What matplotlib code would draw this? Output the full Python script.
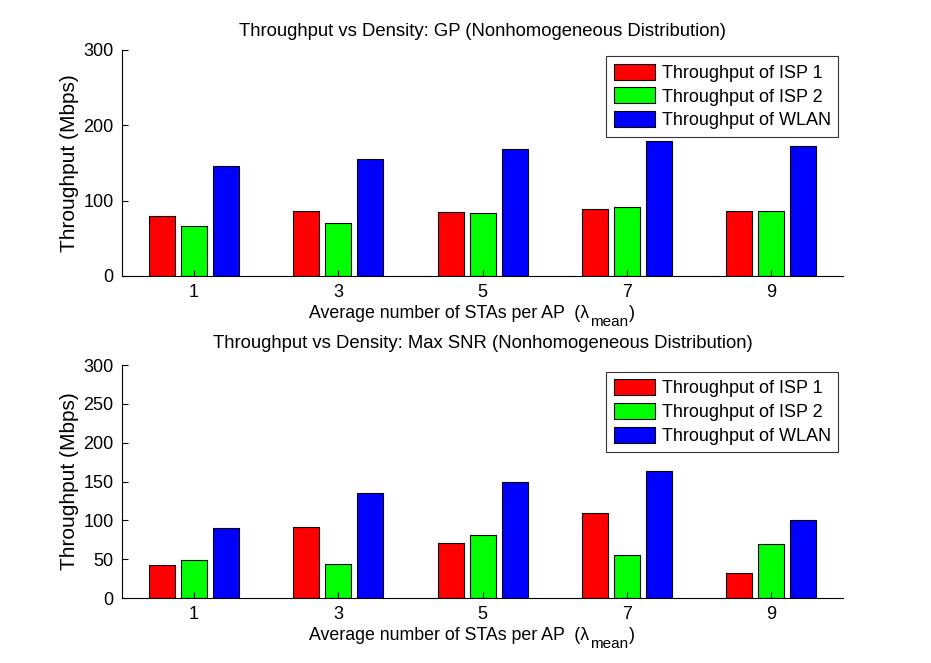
import numpy as np
import matplotlib
matplotlib.use('Agg')
import matplotlib.pyplot as plt

plt.rcParams['font.family'] = ['Liberation Sans', 'DejaVu Sans']

# data
density = [1, 3, 5, 7, 9]
series = ['Throughput of ISP 1', 'Throughput of ISP 2', 'Throughput of WLAN']
colors = ['#ff0000', '#00ff00', '#0000ff']
gp_isp1 = [79.5, 86, 85, 89, 86]
gp_isp2 = [66, 70, 83.5, 91.5, 86]
gp_wlan = [145.5, 155.5, 168.5, 179, 172]
snr_isp1 = [42, 91, 70.5, 109, 32]
snr_isp2 = [49, 43.5, 81, 55, 69]
snr_wlan = [90, 135, 150, 163, 100]

titles = ['Throughput vs Density: GP (Nonhomogeneous Distribution)',
          'Throughput vs Density: Max SNR (Nonhomogeneous Distribution)']


def xLabel(ax):
    """ xlabel with a MATLAB sized subscript, built from three pieces """
    t1 = ax.annotate('Average number of STAs per AP  (\u03bb', xy=(0.259, 0),
                     xycoords='axes fraction', xytext=(0, -30),
                     textcoords='offset points', fontsize=12.8,
                     ha='left', va='baseline')
    t2 = ax.annotate('mean', xy=(1, 0), xycoords=t1, xytext=(1, -5.5),
                     textcoords='offset points', fontsize=11,
                     ha='left', va='bottom')
    ax.annotate(')', xy=(1, 0), xycoords=(t2, t1), xytext=(0.5, 0),
                textcoords='offset points', fontsize=12.8,
                ha='left', va='bottom')


def groupBar(ax, data, yticks, title, tpad):
    """ MATLAB style grouped bar chart """
    x = np.array(density, dtype=float)
    offsets = [-0.444, 0, 0.444]
    for k, vals in enumerate(data):
        ax.bar(x + offsets[k], vals, width=0.36, color=colors[k],
               edgecolor='black', linewidth=0.8, label=series[k])
    ax.set_xlim(0, 10)
    ax.set_ylim(0, 300)
    ax.set_xticks(density)
    ax.set_yticks(yticks)
    ax.tick_params(direction='in', length=4, labelsize=13, width=0.8, pad=6)
    for s in ['top', 'right']:
        ax.spines[s].set_visible(False)
    ax.set_title(title, fontsize=13.3, pad=tpad)
    xLabel(ax)
    ax.set_ylabel('Throughput (Mbps)', fontsize=15, labelpad=3)
    leg = ax.legend(loc='upper right', fontsize=13, frameon=True, fancybox=False,
                    edgecolor='black', handlelength=2.3, handleheight=1.0,
                    handletextpad=0.35, borderpad=0.42, labelspacing=0.3,
                    borderaxespad=0, bbox_to_anchor=(0.993, 0.972))
    leg.get_frame().set_linewidth(0.8)


fig = plt.figure(figsize=(9.31, 6.63), dpi=100)
ax1 = fig.add_axes([0.131, 0.5838, 0.775, 0.3412])
ax2 = fig.add_axes([0.131, 0.098, 0.775, 0.3514])
groupBar(ax1, [gp_isp1, gp_isp2, gp_wlan], [0, 100, 200, 300], titles[0], 10)
groupBar(ax2, [snr_isp1, snr_isp2, snr_wlan], [0, 50, 100, 150, 200, 250, 300], titles[1], 12.5)
fig.savefig('out.png', dpi=100)
